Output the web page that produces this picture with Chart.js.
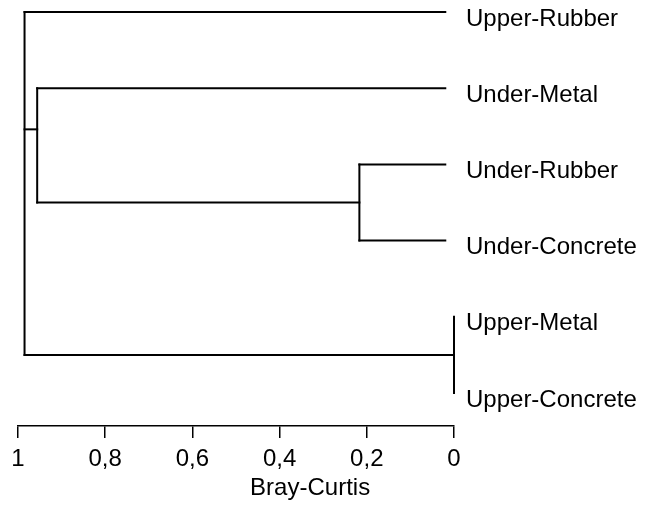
<!DOCTYPE html>
<html>
<head>
<meta charset="utf-8">
<script src="https://cdn.jsdelivr.net/npm/chart.js@4.4.1/dist/chart.umd.min.js"></script>
<style>
  html, body { margin: 0; padding: 0; background: #fff; }
  #wrap { width: 650px; height: 507px; position: relative; }
</style>
</head>
<body>
<div id="wrap"><canvas id="dendro"></canvas></div>
<script>
/* --- DATA --- */
const leafNames = ['Upper-Rubber', 'Under-Metal', 'Under-Rubber', 'Under-Concrete', 'Upper-Metal', 'Upper-Concrete'];
const leafHeight = 0.02;   // where the leaf branches stop
// each merge: height (Bray-Curtis) and its children (L = leaf index, M = merge index)
const mergeHeights = [0.217, 0.956, 0, 0.985];
const mergeChildren = [['L2', 'L3'], ['L1', 'M0'], ['L4', 'L5'], ['L0', 'M1', 'M2']];
const mergeAnchors = [2.5, 1.54, 4.5, 0];   // row where the link leaves each merge
const tickValues = [0, 0.2, 0.4, 0.6, 0.8, 1];
const tickLabels = ['0', '0,2', '0,4', '0,6', '0,8', '1'];
const axisTitle = 'Bray-Curtis';

const FONT = "'Liberation Sans', Arial, sans-serif";

/* --- BUILD SEGMENTS --- */
function childInfo(id) {
  const idx = +id.slice(1);
  if (id[0] === 'L') return { h: leafHeight, y: idx };
  return { h: mergeHeights[idx], y: mergeAnchors[idx] };
}

const segments = [];
mergeChildren.forEach((kids, m) => {
  const h = mergeHeights[m];
  const ys = [];
  kids.forEach(k => {
    const c = childInfo(k);
    ys.push(c.y);
    // skip zero-length leaf stubs (pair joined at 0)
    if (c.h !== h && !(k[0] === 'L' && h < leafHeight)) {
      segments.push([{ x: c.h, y: c.y }, { x: h, y: c.y }]);
    }
  });
  segments.push([{ x: h, y: Math.min(...ys) }, { x: h, y: Math.max(...ys) }]);
});

const datasets = segments.map(seg => ({
  data: seg,
  showLine: true,
  borderColor: '#000',
  borderWidth: 2,
  borderCapStyle: 'square',
  pointRadius: 0,
  clip: false
}));

/* --- LEAF LABELS + AXIS TITLE --- */
const textLayer = {
  id: 'textLayer',
  afterDatasetsDraw(chart) {
    const { ctx, chartArea, scales: { x, y } } = chart;
    ctx.save();
    ctx.fillStyle = '#000';
    ctx.font = '24px ' + FONT;
    ctx.textBaseline = 'middle';
    ctx.textAlign = 'left';
    leafNames.forEach((name, i) => {
      ctx.fillText(name, x.getPixelForValue(0) + 12, y.getPixelForValue(i) + 7);
    });
    // axis title sits right of centre in the original
    ctx.textAlign = 'center';
    ctx.textBaseline = 'alphabetic';
    ctx.fillText(axisTitle, chartArea.left + chartArea.width * 0.67, chart.height - 12);
    ctx.restore();
  }
};

new Chart(document.getElementById('dendro'), {
  type: 'scatter',
  data: { datasets },
  plugins: [textLayer],
  options: {
    responsive: true,
    maintainAspectRatio: false,
    animation: false,
    layout: { padding: { left: 18, right: 196, top: 4, bottom: 0 } },
    plugins: { legend: { display: false }, tooltip: { enabled: false } },
    scales: {
      x: {
        type: 'linear',
        min: 0,
        max: 1,
        reverse: true,
        afterBuildTicks: axis => { axis.ticks = tickValues.map(v => ({ value: v })); },
        afterFit: axis => { axis.height = 81; },
        ticks: {
          color: '#000',
          font: { family: FONT, size: 24 },
          padding: 7,
          maxRotation: 0,
          callback: (v) => tickLabels[tickValues.indexOf(v)]
        },
        grid: { drawOnChartArea: false, drawTicks: true, tickLength: 12, color: '#000', lineWidth: 1.5 },
        border: { display: true, color: '#000', width: 1.5 }
      },
      y: {
        display: false,
        min: -0.105,
        max: 5.433,
        reverse: true
      }
    }
  }
});
</script>
</body>
</html>
